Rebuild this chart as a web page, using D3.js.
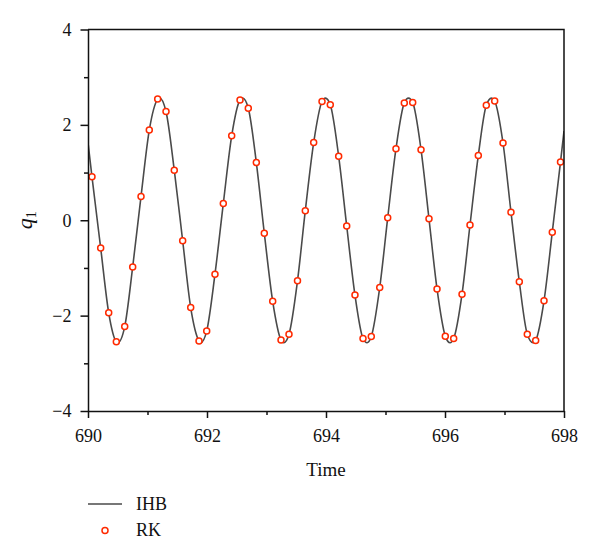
<!DOCTYPE html>
<html>
<head>
<meta charset="utf-8">
<script src="https://cdn.jsdelivr.net/npm/d3@7"></script>
<style>
  body { margin: 0; background: #fff; }
  svg text { font-family: "Liberation Serif", "DejaVu Serif", serif; fill: #111; }
</style>
</head>
<body>
<script>
// RK samples
const rkTime = [690.067, 690.213, 690.348, 690.476, 690.617, 690.751, 690.891, 691.030, 691.171, 691.311,
  691.450, 691.591, 691.726, 691.866, 691.995, 692.134, 692.274, 692.415, 692.555, 692.694,
  692.829, 692.963, 693.104, 693.244, 693.378, 693.521, 693.652, 693.793, 693.933, 694.072,
  694.213, 694.348, 694.487, 694.622, 694.761, 694.903, 695.037, 695.176, 695.316, 695.457,
  695.597, 695.731, 695.866, 696.005, 696.146, 696.286, 696.420, 696.560, 696.694, 696.835,
  696.975, 697.109, 697.249, 697.383, 697.524, 697.664, 697.803, 697.941];
const rkQ = [0.91, -0.58, -1.94, -2.55, -2.23, -0.98, 0.50, 1.89, 2.54, 2.28,
  1.05, -0.43, -1.83, -2.53, -2.32, -1.13, 0.35, 1.77, 2.52, 2.35,
  1.21, -0.27, -1.70, -2.51, -2.39, -1.27, 0.20, 1.63, 2.49, 2.42,
  1.34, -0.12, -1.57, -2.48, -2.44, -1.41, 0.05, 1.50, 2.46, 2.47,
  1.48, 0.03, -1.44, -2.43, -2.48, -1.55, -0.10, 1.36, 2.41, 2.50,
  1.62, 0.17, -1.29, -2.39, -2.52, -1.69, -0.25, 1.22];

// IHB curve: ends and turning points (curve also passes the RK samples)
const ihbTime = [690.0, 690.50, 691.20, 691.895, 692.60, 693.29, 693.99, 694.69, 695.387, 696.085, 696.78, 697.48, 698.0];
const ihbQ = [1.63, -2.57, 2.57, -2.57, 2.56, -2.57, 2.56, -2.57, 2.56, -2.57, 2.56, -2.57, 1.87];

const xTicks = [690, 692, 694, 696, 698];
const xMinor = [691, 693, 695, 697];
const yTicks = [-4, -2, 0, 2, 4];
const yMinor = [-3, -1, 1, 3];

const width = 600;
const height = 557;
const margin = { top: 29.5, right: 36, bottom: 146, left: 88 };
const serif = '"Liberation Serif", "DejaVu Serif", serif';

const x = d3.scaleLinear().domain([690, 698]).range([margin.left, width - margin.right]);
const y = d3.scaleLinear().domain([-4, 4]).range([height - margin.bottom, margin.top]);

const svg = d3.select('body').append('svg').attr('width', width).attr('height', height);

svg.append('clipPath').attr('id', 'plot')
  .append('rect')
  .attr('x', x(690)).attr('y', y(4))
  .attr('width', x(698) - x(690)).attr('height', y(-4) - y(4));

const rk = rkTime.map((t, i) => ({ t, q: rkQ[i] }));
const ihb = rk.concat(ihbTime.map((t, i) => ({ t, q: ihbQ[i] })))
  .sort((a, b) => a.t - b.t);

const line = d3.line()
  .x((d) => x(d.t))
  .y((d) => y(d.q))
  .curve(d3.curveMonotoneX);

svg.append('path')
  .datum(ihb)
  .attr('clip-path', 'url(#plot)')
  .attr('fill', 'none')
  .attr('stroke', '#4a4a4a')
  .attr('stroke-width', 1.6)
  .attr('d', line);

svg.append('g')
  .selectAll('circle')
  .data(rk)
  .enter()
  .append('circle')
  .attr('cx', (d) => x(d.t))
  .attr('cy', (d) => y(d.q))
  .attr('r', 3)
  .attr('fill', '#fff')
  .attr('stroke', '#ff2a00')
  .attr('stroke-width', 1.5);

// frame
svg.append('path')
  .attr('d', `M${x(690)},${y(4)}H${x(698)}V${y(-4)}`)
  .attr('fill', 'none')
  .attr('stroke', '#111')
  .attr('stroke-width', 1.5);

const styleAxis = (g) => {
  g.attr('font-family', null).attr('font-size', null);
  g.selectAll('path, line').attr('stroke', '#111').attr('stroke-width', 1.5);
  g.selectAll('text')
    .style('font-family', serif)
    .style('font-size', '18px')
    .attr('fill', '#111');
};

svg.append('g')
  .attr('transform', `translate(0,${y(-4)})`)
  .call(d3.axisBottom(x).tickValues(xTicks).tickFormat(d3.format('d')).tickSize(7).tickSizeOuter(0).tickPadding(11))
  .call(styleAxis);
svg.append('g')
  .attr('transform', `translate(0,${y(-4)})`)
  .call(d3.axisBottom(x).tickValues(xMinor).tickFormat('').tickSize(4).tickSizeOuter(0))
  .call(styleAxis)
  .select('.domain').remove();

svg.append('g')
  .attr('transform', `translate(${x(690)},0)`)
  .call(d3.axisLeft(y).tickValues(yTicks).tickFormat((d) => (d < 0 ? '\u2212' + Math.abs(d) : d)).tickSize(7.5).tickSizeOuter(0).tickPadding(9))
  .call(styleAxis);
svg.append('g')
  .attr('transform', `translate(${x(690)},0)`)
  .call(d3.axisLeft(y).tickValues(yMinor).tickFormat('').tickSize(4).tickSizeOuter(0))
  .call(styleAxis)
  .select('.domain').remove();

// axis titles
svg.append('text')
  .attr('x', (x(690) + x(698)) / 2)
  .attr('y', 476)
  .attr('text-anchor', 'middle')
  .style('font-size', '19px')
  .text('Time');

const yl = svg.append('text')
  .attr('transform', `translate(32,${y(0)}) rotate(-90)`)
  .attr('text-anchor', 'middle')
  .style('font-size', '22px');
yl.append('tspan').style('font-style', 'italic').text('q');
yl.append('tspan').style('font-size', '14px').attr('dy', 4).text('1');

// legend
const leg = svg.append('g');
leg.append('line')
  .attr('x1', 88).attr('x2', 122).attr('y1', 504).attr('y2', 504)
  .attr('stroke', '#4a4a4a').attr('stroke-width', 1.6);
leg.append('text').attr('x', 136).attr('y', 510).style('font-size', '18px').text('IHB');
leg.append('circle')
  .attr('cx', 105).attr('cy', 530.5).attr('r', 3)
  .attr('fill', '#fff').attr('stroke', '#ff2a00').attr('stroke-width', 1.5);
leg.append('text').attr('x', 136).attr('y', 536).style('font-size', '18px').text('RK');
</script>
</body>
</html>
